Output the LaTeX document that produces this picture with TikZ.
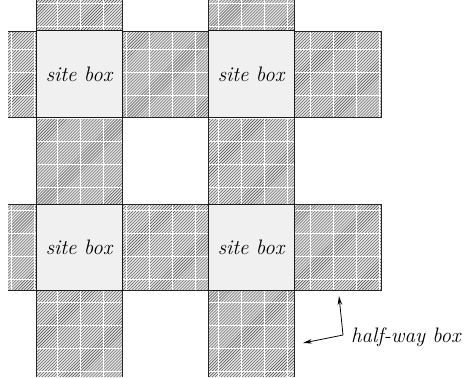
\documentclass[tikz,border=0pt]{standalone}
\usetikzlibrary{patterns,arrows.meta}
\tikzset{
  sitebox/.style={draw=black!90,line width=1bp,fill=black!6,minimum size=86bp,inner sep=0pt,
    font=\fontsize{21}{24}\selectfont\itshape},
  bandline/.style={draw=black!85,line width=1bp},
  pointer/.style={draw=black,line width=0.8bp,-{Stealth[length=9bp,width=4.5bp]}},
  lbl/.style={font=\fontsize{21}{24}\selectfont\itshape,inner sep=0pt}
}
\begin{document}
\begin{tikzpicture}[x=1bp,y=1bp]
\useasboundingbox (0,0) rectangle (476,377);
\def\bands{(8,260) rectangle (381,346) (8,87) rectangle (381,173) (36,0) rectangle (122,377) (208,0) rectangle (294,377)}
\fill[black!10] \bands;
\fill[pattern=north east lines,pattern color=black!72] \bands;
\begin{scope}
  \clip \bands;
  \foreach \gx in {11,34,...,400} \draw[white,line width=0.6bp] (\gx,0) -- (\gx,377);
  \foreach \gy in {6,29,...,377} \draw[white,line width=0.6bp] (0,\gy) -- (476,\gy);
\end{scope}
% band borders
\draw[bandline] (8,346) -- (381,346) -- (381,260) -- (8,260);
\draw[bandline] (8,173) -- (381,173) -- (381,87) -- (8,87);
\draw[bandline] (36,0) -- (36,377) (122,0) -- (122,377);
\draw[bandline] (208,0) -- (208,377) (294,0) -- (294,377);
% site boxes
\node[sitebox] (s1) at (79,303) {site box};
\node[sitebox] (s2) at (251,303) {site box};
\node[sitebox] (s3) at (79,130) {site box};
\node[sitebox] (s4) at (251,130) {site box};
% label and pointers
\node[lbl,anchor=base west] (hw) at (351,35) {half-way box};
\coordinate (o) at (343,42);
\coordinate (t1) at (339,81);
\coordinate (t2) at (303,34);
\draw[pointer] (o) -- (t1);
\draw[pointer] (o) -- (t2);
\end{tikzpicture}
\end{document}
